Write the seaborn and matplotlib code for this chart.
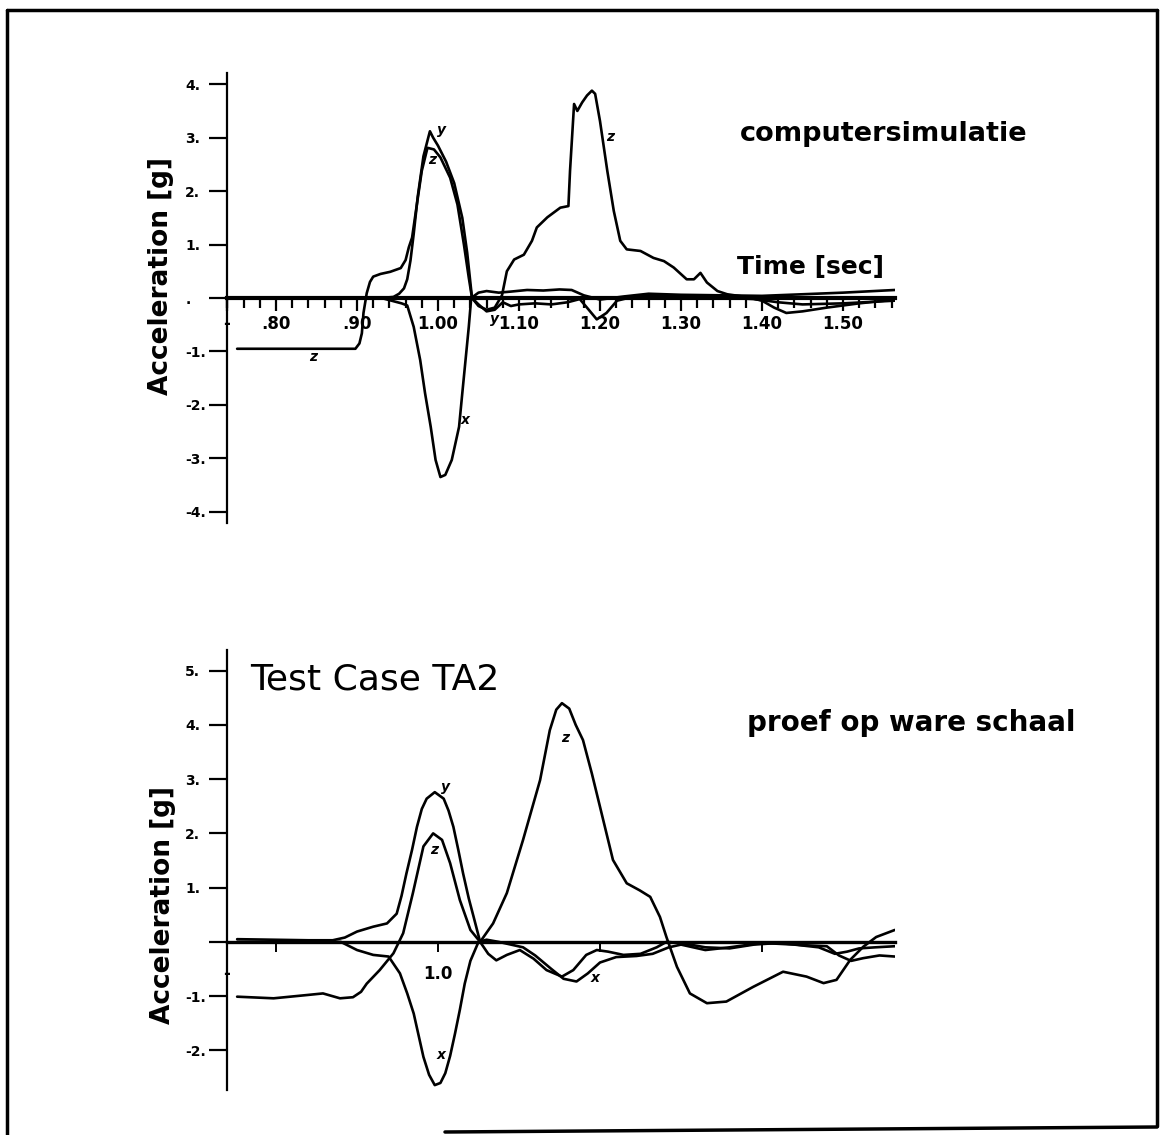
import numpy as np
import pandas as pd
import matplotlib
matplotlib.use("Agg")
import matplotlib.pyplot as plt
from matplotlib.lines import Line2D
from matplotlib.ticker import MultipleLocator, FixedLocator, FixedFormatter
import seaborn as sns

# ---------------- data: computersimulatie (top) ----------------
t_sim_z = [0.752, 0.898, 0.903, 0.906, 0.908, 0.912, 0.916, 0.920, 0.929, 0.941, 0.954, 0.960,
           0.964, 0.968, 0.974, 0.980, 0.987, 0.995, 1.003, 1.015, 1.024, 1.032, 1.038, 1.042,
           1.050, 1.060, 1.070, 1.079, 1.085, 1.094, 1.106, 1.116, 1.122, 1.135, 1.151, 1.161,
           1.163, 1.168, 1.172, 1.178, 1.184, 1.190, 1.194, 1.200, 1.209, 1.217, 1.225, 1.233,
           1.250, 1.266, 1.279, 1.291, 1.307, 1.316, 1.324, 1.332, 1.345, 1.357, 1.380, 1.400,
           1.415, 1.430, 1.450, 1.480, 1.520, 1.564]
a_sim_z = [-0.95, -0.95, -0.85, -0.66, -0.28, 0.09, 0.30, 0.40, 0.45, 0.49, 0.56, 0.71,
           0.95, 1.13, 1.76, 2.38, 2.81, 2.78, 2.63, 2.25, 1.75, 1.00, 0.38, 0.00,
           -0.15, -0.22, -0.18, 0.05, 0.50, 0.72, 0.81, 1.07, 1.32, 1.51, 1.69, 1.72,
           2.38, 3.63, 3.50, 3.66, 3.79, 3.88, 3.82, 3.31, 2.38, 1.63, 1.07, 0.91,
           0.88, 0.75, 0.69, 0.57, 0.35, 0.35, 0.47, 0.29, 0.13, 0.07, 0.02, -0.05,
           -0.18, -0.28, -0.25, -0.18, -0.10, -0.03]

t_sim_y = [0.752, 0.930, 0.945, 0.952, 0.958, 0.962, 0.966, 0.970, 0.975, 0.982, 0.990, 0.994,
           1.000, 1.010, 1.020, 1.030, 1.036, 1.042, 1.050, 1.060, 1.070, 1.080, 1.090, 1.100,
           1.120, 1.140, 1.160, 1.175, 1.185, 1.196, 1.208, 1.221, 1.240, 1.270, 1.300, 1.330,
           1.360, 1.390, 1.420, 1.450, 1.500, 1.564]
a_sim_y = [0.00, 0.00, 0.02, 0.08, 0.18, 0.35, 0.70, 1.20, 1.90, 2.65, 3.12, 3.00,
           2.85, 2.55, 2.15, 1.50, 0.85, 0.00, -0.12, -0.25, -0.22, -0.08, -0.15, -0.12,
           -0.10, -0.12, -0.08, -0.02, -0.20, -0.40, -0.28, -0.05, 0.02, 0.05, 0.03, 0.04,
           0.00, -0.02, -0.08, -0.12, -0.10, -0.05]

t_sim_x = [0.752, 0.930, 0.945, 0.955, 0.962, 0.970, 0.978, 0.984, 0.991, 0.997, 1.003, 1.009,
           1.017, 1.026, 1.030, 1.034, 1.038, 1.041, 1.050, 1.060, 1.075, 1.090, 1.110, 1.130,
           1.150, 1.165, 1.180, 1.200, 1.230, 1.260, 1.300, 1.350, 1.400, 1.450, 1.500, 1.564]
a_sim_x = [0.00, 0.00, -0.06, -0.10, -0.14, -0.54, -1.16, -1.78, -2.41, -3.03, -3.35, -3.31,
           -3.03, -2.41, -1.78, -1.16, -0.54, 0.00, 0.10, 0.13, 0.10, 0.12, 0.15, 0.14,
           0.16, 0.15, 0.05, -0.03, 0.03, 0.08, 0.06, 0.05, 0.04, 0.07, 0.10, 0.15]

# ---------------- data: proef op ware schaal (bottom) ----------------
t_test_z = [0.752, 0.797, 0.838, 0.858, 0.879, 0.895, 0.905, 0.912, 0.928, 0.945, 0.957, 0.969,
            0.982, 0.994, 1.005, 1.015, 1.027, 1.040, 1.052, 1.068, 1.085, 1.105, 1.126, 1.138,
            1.146, 1.153, 1.162, 1.170, 1.179, 1.190, 1.200, 1.216, 1.233, 1.249, 1.262, 1.274,
            1.282, 1.295, 1.311, 1.332, 1.356, 1.389, 1.426, 1.455, 1.476, 1.492, 1.509, 1.525,
            1.541, 1.564]
a_test_z = [-1.01, -1.04, -0.98, -0.95, -1.04, -1.02, -0.92, -0.77, -0.52, -0.21, 0.16, 0.90,
            1.76, 2.00, 1.88, 1.45, 0.77, 0.22, 0.00, 0.34, 0.90, 1.88, 2.98, 3.90,
            4.28, 4.40, 4.30, 4.00, 3.72, 3.10, 2.49, 1.51, 1.08, 0.95, 0.83, 0.46,
            0.09, -0.46, -0.95, -1.13, -1.10, -0.83, -0.55, -0.64, -0.76, -0.70, -0.33, -0.09,
            0.09, 0.22]

t_test_y = [0.752, 0.840, 0.870, 0.885, 0.900, 0.920, 0.937, 0.949, 0.955, 0.961, 0.968, 0.974,
            0.980, 0.986, 0.996, 1.007, 1.013, 1.019, 1.025, 1.031, 1.038, 1.044, 1.052, 1.062,
            1.072, 1.085, 1.101, 1.118, 1.134, 1.153, 1.167, 1.183, 1.196, 1.210, 1.229, 1.250,
            1.270, 1.282, 1.300, 1.330, 1.360, 1.390, 1.420, 1.450, 1.480, 1.495, 1.510, 1.525,
            1.545, 1.564]
a_test_y = [0.05, 0.03, 0.03, 0.08, 0.19, 0.28, 0.34, 0.52, 0.85, 1.26, 1.70, 2.12,
            2.45, 2.64, 2.76, 2.64, 2.42, 2.12, 1.70, 1.26, 0.80, 0.46, 0.00, -0.22,
            -0.34, -0.24, -0.15, -0.31, -0.52, -0.64, -0.52, -0.24, -0.15, -0.18, -0.24, -0.22,
            -0.10, 0.00, -0.02, -0.10, -0.12, -0.05, -0.02, -0.06, -0.08, -0.25, -0.35, -0.30,
            -0.25, -0.27]

t_test_x = [0.752, 0.880, 0.900, 0.920, 0.939, 0.953, 0.962, 0.970, 0.976, 0.982, 0.989, 0.996,
            1.003, 1.009, 1.015, 1.021, 1.027, 1.033, 1.040, 1.050, 1.060, 1.075, 1.090, 1.105,
            1.120, 1.140, 1.155, 1.171, 1.185, 1.200, 1.220, 1.245, 1.265, 1.285, 1.300, 1.330,
            1.360, 1.400, 1.440, 1.470, 1.490, 1.505, 1.520, 1.540, 1.564]
a_test_x = [0.00, 0.00, -0.15, -0.24, -0.27, -0.58, -0.95, -1.32, -1.72, -2.12, -2.45, -2.64,
            -2.60, -2.42, -2.10, -1.69, -1.25, -0.77, -0.35, 0.00, 0.04, 0.00, -0.05, -0.10,
            -0.25, -0.50, -0.68, -0.73, -0.58, -0.38, -0.28, -0.26, -0.22, -0.10, -0.05, -0.15,
            -0.10, -0.02, -0.05, -0.10, -0.22, -0.18, -0.12, -0.10, -0.08]

# ticks / labels
sim_xticks = [0.7395, 0.8, 0.9, 1.0, 1.1, 1.2, 1.3, 1.4, 1.5]
sim_xlabels = ["-", ".80", ".90", "1.00", "1.10", "1.20", "1.30", "1.40", "1.50"]
sim_yticks = [4, 3, 2, 1, 0, -1, -2, -3, -4]
sim_ylabels = ["4.", "3.", "2.", "1.", ".", "-1.", "-2.", "-3.", "-4."]
test_xticks = [0.7395, 0.8, 1.0, 1.2, 1.4]
test_xlabels = ["-", "", "1.0", "", ""]
test_yticks = [5, 4, 3, 2, 1, 0, -1, -2]
test_ylabels = ["5.", "4.", "3.", "2.", "1.", "", "-1.", "-2."]

# curve annotations (t, g, text)
sim_notes = [(1.004, 3.14, "y"), (0.993, 2.58, "z"), (1.213, 3.02, "z"),
             (0.846, -1.10, "z"), (1.034, -2.28, "x"), (1.070, -0.40, "y")]
test_notes = [(1.009, 2.85, "y"), (0.995, 1.70, "z"), (1.157, 3.75, "z"),
              (1.004, -2.09, "x"), (1.194, -0.66, "x")]

# ---------------- style ----------------
sns.set_style("white")
plt.rcParams["font.family"] = ["DejaVu Sans"]
plt.rcParams["font.weight"] = "bold"
plt.rcParams["text.color"] = "black"
plt.rcParams["axes.labelcolor"] = "black"
plt.rcParams["xtick.color"] = "black"
plt.rcParams["ytick.color"] = "black"

W, H = 1161, 1135
fig = plt.figure(figsize=(W / 100, H / 100), dpi=100)
fig.patch.set_facecolor("white")


def fx(px):
    return px / W


def fy(py):
    return 1 - py / H


XLIM = (0.7395, 1.5642)
ax1 = fig.add_axes([fx(227), fy(523), 668 / W, 450 / H])
ax2 = fig.add_axes([fx(227), fy(1090), 668 / W, 440 / H])

LW = 1.9
for ax, series in (
    (ax1, [(t_sim_z, a_sim_z), (t_sim_y, a_sim_y), (t_sim_x, a_sim_x)]),
    (ax2, [(t_test_z, a_test_z), (t_test_y, a_test_y), (t_test_x, a_test_x)]),
):
    for t, a in series:
        assert len(t) == len(a)
        df = pd.DataFrame({"t": t, "a": a})
        sns.lineplot(data=df, x="t", y="a", ax=ax, color="black", linewidth=LW,
                     estimator=None, sort=False)
    ax.set_facecolor("none")
    ax.set_xlim(*XLIM)
    ax.set_xlabel("")
    ax.set_ylabel("")
    ax.grid(False)
    for s in ("top", "right"):
        ax.spines[s].set_visible(False)
    ax.spines["left"].set_linewidth(1.6)
    ax.spines["left"].set_color("black")
    ax.spines["bottom"].set_position(("data", 0))
    ax.spines["bottom"].set_color("black")

ax1.set_ylim(-4.21, 4.21)
ax2.set_ylim(-2.73, 5.38)
ax1.spines["bottom"].set_linewidth(3.0)
ax2.spines["bottom"].set_linewidth(2.4)

# top axis ticks
ax1.xaxis.set_major_locator(FixedLocator(sim_xticks))
ax1.xaxis.set_major_formatter(FixedFormatter(sim_xlabels))
ax1.xaxis.set_minor_locator(MultipleLocator(0.02))
ax1.tick_params(axis="x", which="major", direction="out", length=9, width=1.6,
                pad=3, labelsize=12, colors="black", bottom=True)
ax1.tick_params(axis="x", which="minor", direction="out", length=7, width=1.6,
                colors="black", bottom=True)
ax1.yaxis.set_major_locator(FixedLocator(sim_yticks))
ax1.yaxis.set_major_formatter(FixedFormatter(sim_ylabels))

# bottom axis ticks
ax2.xaxis.set_major_locator(FixedLocator(test_xticks))
ax2.xaxis.set_major_formatter(FixedFormatter(test_xlabels))
ax2.tick_params(axis="x", which="major", direction="out", length=7, width=1.4,
                pad=10, labelsize=12, colors="black", bottom=True)
ax2.yaxis.set_major_locator(FixedLocator(test_yticks))
ax2.yaxis.set_major_formatter(FixedFormatter(test_ylabels))

for ax in (ax1, ax2):
    ax.tick_params(axis="y", which="major", direction="out", length=13, width=1.6,
                   pad=17, labelsize=10, colors="black", left=True)
    for lbl in ax.get_yticklabels():
        lbl.set_horizontalalignment("left")
        lbl.set_fontweight("bold")
    for lbl in ax.get_xticklabels():
        lbl.set_fontweight("bold")

for t, g, s in sim_notes:
    ax1.text(t, g, s, ha="center", va="center", fontsize=10, fontweight="bold",
             fontstyle="italic", color="black")
for t, g, s in test_notes:
    ax2.text(t, g, s, ha="center", va="center", fontsize=10, fontweight="bold",
             fontstyle="italic", color="black")

# texts
fig.text(fx(740), fy(141), "computersimulatie", fontsize=19.5, fontweight="bold",
         ha="left", va="baseline", color="black")
fig.text(fx(737), fy(274), "Time [sec]", fontsize=18, fontweight="bold",
         ha="left", va="baseline", color="black")
fig.text(fx(747), fy(731), "proef op ware schaal", fontsize=20, fontweight="bold",
         ha="left", va="baseline", color="black")
fig.text(fx(250), fy(690), "Test Case TA2", fontsize=26, fontweight="normal",
         ha="left", va="baseline", color="black")
fig.text(fx(161), fy(276), "Acceleration [g]", fontsize=19, fontweight="bold",
         rotation=90, ha="center", va="center", color="black")
fig.text(fx(163), fy(905), "Acceleration [g]", fontsize=19, fontweight="bold",
         rotation=90, ha="center", va="center", color="black")

# page frame
frame = [((7, 10), (1157, 10)), ((7, 10), (7, 1135)), ((1157, 10), (1157, 1126)),
         ((445, 1132), (1157, 1127))]
for (x0, y0), (x1, y1) in frame:
    fig.add_artist(Line2D([fx(x0), fx(x1)], [fy(y0), fy(y1)], transform=fig.transFigure,
                          color="black", linewidth=2.5))

fig.savefig("out.png", dpi=100, facecolor="white")
